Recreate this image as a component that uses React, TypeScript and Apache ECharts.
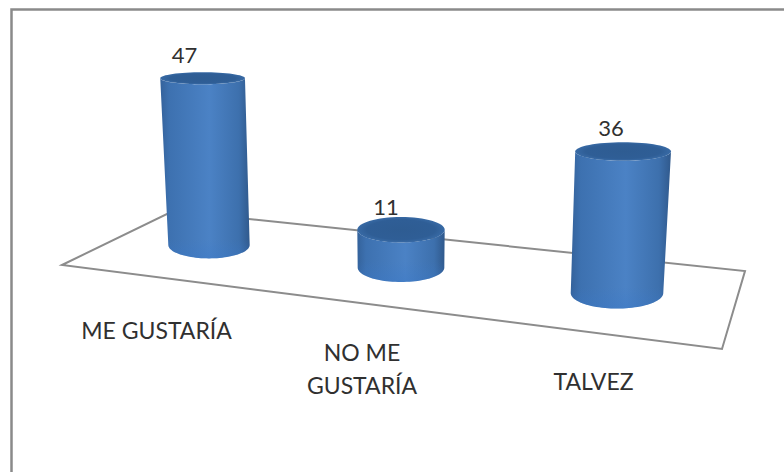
import React, { useEffect, useRef } from "react";
import * as echarts from "echarts";

// Survey answers and their counts
const categories = ["ME GUSTARÍA", "NO ME\nGUSTARÍA", "TALVEZ"];
const counts = [47, 11, 36];

const WIDTH = 784;
const HEIGHT = 472;

// Floor of the 3D scene, in page pixels
const floorCorners = [
  [62, 265],
  [173, 211],
  [745, 271],
  [722, 349],
];

// The chart frame shows only its left and top edges here
const frameEdges = [
  [11.5, 472],
  [11.5, 9.5],
  [784, 9.5],
];

const CENTER_X = 401;
const TEXT_FONT = "Lato, 'Open Sans', sans-serif";
const TEXT_COLOR = "#303030";

// Apparent height of an ellipse grows the further down the scene it sits
const ellipseRy = (y: number) => 6 + 0.045 * (y - 79);

const bodyFill = () =>
  new echarts.graphic.LinearGradient(0, 0, 1, 0, [
    { offset: 0, color: "#34629b" },
    { offset: 0.1, color: "#3d71b0" },
    { offset: 0.55, color: "#4b82c5" },
    { offset: 0.88, color: "#3d70ad" },
    { offset: 1, color: "#30598c" },
  ]);

const footGlow = (from: number, to: number) =>
  new echarts.graphic.LinearGradient(
    0,
    from,
    0,
    to,
    [
      { offset: 0, color: "rgba(58,120,200,0)" },
      { offset: 1, color: "rgba(58,120,200,0.4)" },
    ],
    true
  );

const capFill = () =>
  new echarts.graphic.RadialGradient(0.5, 0.5, 0.5, [
    { offset: 0, color: "#2e5c92" },
    { offset: 0.78, color: "#2f5e96" },
    { offset: 1, color: "#386aa5" },
  ]);

// Draws one cylinder, its value and its category name, projecting the
// axis position onto the tilted floor
function renderCylinder(params: any, api: any) {
  const index = api.value(0);
  const value = api.value(1);
  const origin = api.coord([index, 0]);
  const unit = api.size([0, 1])[1];

  const band = (origin[0] - CENTER_X) / 204;
  const baseX = origin[0] + 12 * band * band;
  const baseY = origin[1] + 0.1176 * (baseX - CENTER_X);

  const t = (baseX - CENTER_X) / 200;
  const height = value * unit * (1 + 0.0452 * t + 0.0802 * t * t);
  const topX = baseX + (baseX - CENTER_X) * 0.0002 * height;
  const topY = baseY - height;

  const baseRx = 43.3 + 0.0137 * (baseX - CENTER_X);
  const topRx = baseRx * (1 + 0.00025 * height);
  const baseRy = ellipseRy(baseY);
  const topRy = ellipseRy(topY);

  const outline: number[][] = [];
  for (let i = 0; i <= 48; i++) {
    const a = (Math.PI * i) / 48;
    outline.push([baseX - baseRx * Math.cos(a), baseY + baseRy * Math.sin(a)]);
  }
  for (let i = 0; i <= 48; i++) {
    const a = (Math.PI * i) / 48;
    outline.push([topX + topRx * Math.cos(a), topY + topRy * Math.sin(a)]);
  }

  const labelX = 362 + band * 218.5 + 13 * band * band;
  const labelY = 335 + 0.115 * 218.5 * band + 4 * band * band;

  return {
    type: "group",
    children: [
      {
        type: "polygon",
        shape: { points: outline },
        style: { fill: bodyFill() },
      },
      {
        type: "polygon",
        shape: { points: outline },
        style: { fill: footGlow(baseY - 6, baseY + baseRy) },
      },
      {
        type: "ellipse",
        shape: { cx: topX, cy: topY, rx: topRx, ry: topRy },
        style: { fill: capFill() },
      },
      {
        type: "text",
        x: topX - 15 + band * 3,
        y: topY - 23.5,
        style: {
          text: String(value),
          fill: TEXT_COLOR,
          fontFamily: TEXT_FONT,
          fontSize: 22,
          align: "center",
          verticalAlign: "middle",
        },
      },
      {
        type: "text",
        x: labelX,
        y: labelY,
        style: {
          text: categories[index],
          fill: TEXT_COLOR,
          fontFamily: TEXT_FONT,
          fontSize: 23,
          lineHeight: 33,
          align: "center",
          verticalAlign: "top",
        },
      },
    ],
  };
}

export default function App() {
  const ref = useRef<HTMLDivElement>(null);

  useEffect(() => {
    document.body.style.margin = "0";
    const chart = echarts.init(ref.current!, null, { renderer: "svg" });
    chart.setOption({
      animation: false,
      backgroundColor: "#ffffff",
      grid: { left: 95, top: 95.5, width: 612, height: 172 },
      xAxis: { type: "category", data: categories, show: false },
      yAxis: { type: "value", min: 0, max: 50, show: false },
      graphic: [
        {
          type: "polyline",
          shape: { points: frameEdges },
          style: { fill: "none", stroke: "#8a8a8a", lineWidth: 2.5 },
        },
        {
          type: "polygon",
          shape: { points: floorCorners },
          style: { fill: "none", stroke: "#8c8c8c", lineWidth: 2 },
        },
      ],
      series: [
        {
          type: "custom",
          renderItem: renderCylinder,
          data: counts.map((count, i) => [i, count]),
          clip: false,
        },
      ],
    });
    return () => chart.dispose();
  }, []);

  return <div ref={ref} style={{ width: WIDTH, height: HEIGHT }} />;
}
